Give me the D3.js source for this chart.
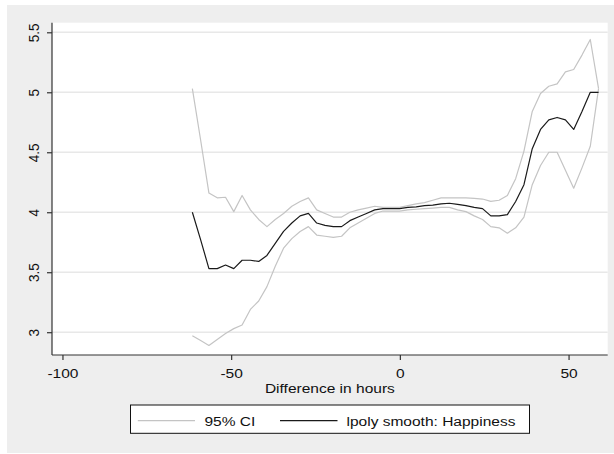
<!DOCTYPE html>
<html><head><meta charset="utf-8">
<script src="https://cdn.jsdelivr.net/npm/d3@7"></script>
<style>
body{margin:0;background:#fff}
svg{display:block}
text{font-family:"Liberation Sans",Arial,Helvetica,sans-serif;fill:#111}
</style>
</head><body><div id="chart"></div>
<script>
// ---- data ----
const hours = [-61.50,-59.04,-56.59,-54.13,-51.67,-49.22,-46.76,-44.30,-41.84,-39.39,
  -36.93,-34.47,-32.02,-29.56,-27.10,-24.65,-22.19,-19.73,-17.27,-14.82,
  -12.36,-9.90,-7.45,-4.99,-2.53,-0.08,2.38,4.84,7.30,9.75,
  12.21,14.67,17.12,19.58,22.04,24.50,26.95,29.41,31.87,34.32,
  36.78,39.24,41.69,44.15,46.61,49.07,51.52,53.98,56.44,58.89];
const smooth = [4.00,3.77,3.53,3.53,3.56,3.53,3.60,3.60,3.59,3.64,
  3.74,3.84,3.91,3.97,3.99,3.91,3.89,3.88,3.88,3.93,
  3.96,3.99,4.02,4.03,4.03,4.03,4.04,4.045,4.055,4.06,
  4.07,4.075,4.065,4.055,4.04,4.03,3.97,3.97,3.98,4.09,
  4.23,4.53,4.69,4.77,4.79,4.77,4.69,4.84,5.00,5.00];
const ciUpper = [5.03,4.60,4.16,4.12,4.125,4.005,4.14,4.02,3.94,3.88,
  3.94,3.99,4.05,4.09,4.12,4.02,3.99,3.96,3.96,4.00,
  4.02,4.035,4.05,4.04,4.04,4.04,4.055,4.07,4.08,4.10,
  4.12,4.12,4.12,4.12,4.115,4.11,4.09,4.10,4.14,4.28,
  4.51,4.84,4.99,5.05,5.07,5.17,5.19,5.31,5.44,5.03];
const ciLower = [2.97,2.93,2.89,2.94,2.99,3.03,3.06,3.19,3.26,3.38,
  3.55,3.70,3.78,3.84,3.88,3.81,3.80,3.79,3.80,3.87,
  3.91,3.95,3.99,4.01,4.01,4.01,4.02,4.025,4.03,4.035,
  4.04,4.04,4.02,4.005,3.97,3.94,3.88,3.87,3.825,3.87,
  3.96,4.23,4.39,4.50,4.50,4.35,4.20,4.37,4.55,5.03];
const xTicks = [-100,-50,0,50];
const xTickLabels = ["-100","-50","0","50"];
const yTicks = [3,3.5,4,4.5,5,5.5];
const yTickLabels = ["3","3.5","4","4.5","5","5.5"];
const xTitle = "Difference in hours";
const legendLabels = ["95% CI","lpoly smooth: Happiness"];

// ---- layout ----
const W = 614, H = 454;
const P = {left:52, right:607.7, top:22.7, bottom:355};
const FS = 13.5, SX = 1.15; // font size, horizontal stretch of the reference
const ciColor = "#c4c4c4", lineColor = "#1a1a1a";

const svg = d3.select("#chart").append("svg").attr("width", W).attr("height", H);
svg.append("rect").attr("x", 7).attr("y", 5).attr("width", W - 7).attr("height", 448).attr("fill", "#eeeeee");
svg.append("rect").attr("x", P.left).attr("y", P.top).attr("width", P.right - P.left).attr("height", P.bottom - P.top).attr("fill", "#fff");

const x = d3.scaleLinear().domain([-103.1, 61.6]).range([P.left, P.right]);
const y = d3.scaleLinear().domain([2.81, 5.58]).range([P.bottom, P.top]);

// gridlines
svg.append("g").selectAll("line").data(yTicks).join("line")
  .attr("x1", P.left).attr("x2", P.right)
  .attr("y1", d => y(d)).attr("y2", d => y(d))
  .attr("stroke", "#e8e8e8").attr("stroke-width", 1.5);

// lines
const pts = arr => arr.map((v, i) => [hours[i], v]);
const line = d3.line().x(d => x(d[0])).y(d => y(d[1]));
[ciUpper, ciLower].forEach(s => {
  svg.append("path").attr("d", line(pts(s))).attr("fill", "none")
    .attr("stroke", ciColor).attr("stroke-width", 1.2).attr("stroke-linejoin", "round");
});
svg.append("path").attr("d", line(pts(smooth))).attr("fill", "none")
  .attr("stroke", lineColor).attr("stroke-width", 1.2).attr("stroke-linejoin", "round");

// axes
const xAxis = svg.append("g").attr("transform", `translate(0,${P.bottom})`)
  .call(d3.axisBottom(x).tickValues(xTicks).tickFormat((d, i) => xTickLabels[i])
    .tickSize(5).tickPadding(8.5).tickSizeOuter(0));
const yAxis = svg.append("g").attr("transform", `translate(${P.left},0)`)
  .call(d3.axisLeft(y).tickValues(yTicks).tickFormat((d, i) => yTickLabels[i]).tickSize(5).tickSizeOuter(0));
[xAxis, yAxis].forEach(g => {
  g.select(".domain").attr("stroke", "#333").attr("stroke-width", 1.2);
  g.selectAll(".tick line").attr("stroke", "#333").attr("stroke-width", 1.2);
  g.selectAll(".tick text").attr("font-size", FS).attr("fill", "#111")
    .style("font-family", '"Liberation Sans",Arial,sans-serif');
});
// extend axis lines to the plot edges
xAxis.select(".domain").attr("d", `M${P.left},0H${P.right}`);
yAxis.select(".domain").attr("d", `M0,${P.bottom}V${P.top}`);
xAxis.selectAll(".tick text").attr("transform", `scale(${SX},1)`);
yAxis.selectAll(".tick text")
  .attr("x", null).attr("y", 0).attr("dy", "0.35em").attr("text-anchor", "middle")
  .attr("transform", `translate(-18.7,0) scale(${SX},1) rotate(-90)`);

// axis title
svg.append("text").attr("text-anchor", "middle").attr("font-size", FS)
  .attr("transform", `translate(${(P.left + P.right) / 2},392.6) scale(${SX},1)`)
  .text(xTitle);

// legend
const lg = svg.append("g");
lg.append("rect").attr("x", 130.5).attr("y", 405).attr("width", 399).attr("height", 28.3)
  .attr("fill", "#fff").attr("stroke", "#111").attr("stroke-width", 1);
const ly = 420.7;
lg.append("line").attr("x1", 137.8).attr("x2", 195).attr("y1", ly).attr("y2", ly)
  .attr("stroke", ciColor).attr("stroke-width", 1.2);
lg.append("text").attr("font-size", FS).attr("transform", `translate(204.4,${ly + 4.85}) scale(${SX},1)`)
  .text(legendLabels[0]);
lg.append("line").attr("x1", 280).attr("x2", 337.5).attr("y1", ly).attr("y2", ly)
  .attr("stroke", lineColor).attr("stroke-width", 1.2);
lg.append("text").attr("font-size", FS).attr("transform", `translate(346.5,${ly + 4.85}) scale(${SX},1)`)
  .text(legendLabels[1]);
</script>
</body></html>
